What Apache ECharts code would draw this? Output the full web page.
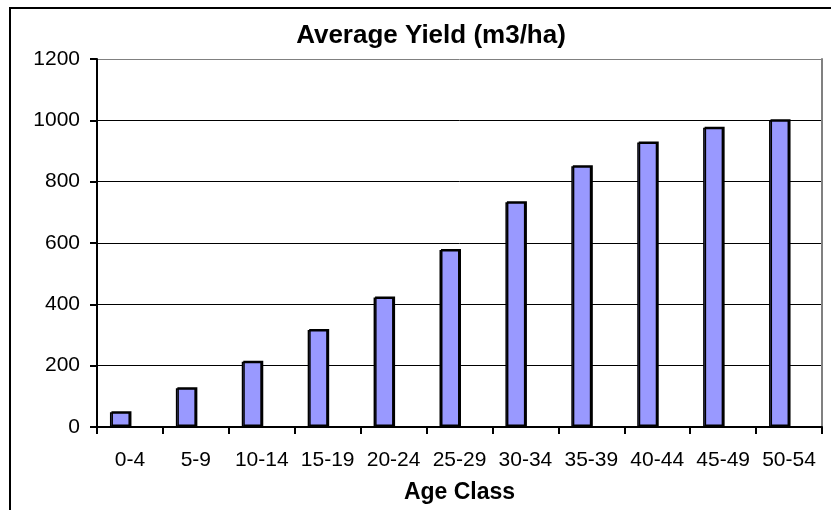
<!DOCTYPE html>
<html>
<head>
<meta charset="utf-8">
<script src="https://cdn.jsdelivr.net/npm/echarts@6/dist/echarts.min.js"></script>
<style>
  html, body { margin: 0; padding: 0; background: #fff; }
  #chart { width: 831px; height: 510px; }
</style>
</head>
<body>
<div id="chart"></div>
<script>
  // 龄级
  var ageClasses = ['0-4', '5-9', '10-14', '15-19', '20-24', '25-29', '30-34', '35-39', '40-44', '45-49', '50-54'];
  // 平均蓄积 (m3/ha)
  var avgYield = [48, 126, 213, 316, 422, 577, 733, 850, 928, 976, 1000];
  // 空系列，让柱子偏左（和原图一样）
  var emptySeries = ageClasses.map(function () { return '-'; });
  var yTicks = [0, 200, 400, 600, 800, 1000, 1200];

  var font = 'Arial, "Liberation Sans", sans-serif';
  var myChart = echarts.init(document.getElementById('chart'));
  var option;

  option = {
    animation: false,
    backgroundColor: '#fff',
    title: {
      text: 'Average Yield (m3/ha)',
      left: 426,
      top: 18,
      textAlign: 'center',
      textStyle: { fontFamily: font, fontSize: 26, fontWeight: 'bold', color: '#000' }
    },
    graphic: [
      {
        type: 'rect',
        shape: { x: 10, y: 8, width: 900, height: 600 },
        style: { fill: 'none', stroke: '#000', lineWidth: 2 },
        z: 100
      }
    ],
    grid: { left: 97, right: 9, top: 59, bottom: 83 },
    xAxis: {
      type: 'category',
      data: ageClasses,
      name: 'Age Class',
      nameLocation: 'middle',
      nameGap: 54,
      nameTextStyle: { fontFamily: font, fontSize: 23, fontWeight: 'bold', color: '#000' },
      axisLine: { lineStyle: { color: '#000', width: 2 } },
      axisTick: { show: true, length: 7, lineStyle: { color: '#000', width: 2 } },
      axisLabel: { interval: 0, margin: 23, fontFamily: font, fontSize: 21, color: '#000' }
    },
    yAxis: [
      {
        type: 'value',
        min: yTicks[0],
        max: yTicks[yTicks.length - 1],
        interval: 200,
        axisLine: { show: true, lineStyle: { color: '#000', width: 2 } },
        axisTick: { show: true, length: 7, lineStyle: { color: '#000', width: 2 } },
        axisLabel: {
          margin: 17,
          fontFamily: font,
          fontSize: 21,
          color: '#000',
          formatter: function (v) { return String(v); }
        },
        splitLine: {
          show: true,
          lineStyle: { color: ['#000', '#000', '#000', '#000', '#000', '#000', '#808080'], width: 1 }
        }
      },
      {
        // 右侧灰色边框
        type: 'value',
        position: 'right',
        min: 0,
        max: 1200,
        axisLine: { show: true, lineStyle: { color: '#808080', width: 2 } },
        axisTick: { show: false },
        axisLabel: { show: false },
        splitLine: { show: false }
      }
    ],
    series: [
      {
        name: 'Average Yield',
        type: 'bar',
        data: avgYield,
        barWidth: 20,
        barGap: '0%',
        itemStyle: {
          color: '#9999ff',
          borderColor: '#000',
          borderWidth: 1.5,
          shadowColor: '#000',
          shadowOffsetX: 1.5,
          shadowOffsetY: -1
        }
      },
      {
        name: 'empty',
        type: 'bar',
        data: emptySeries,
        barWidth: 20
      }
    ]
  };

  option && myChart.setOption(option);
</script>
</body>
</html>
